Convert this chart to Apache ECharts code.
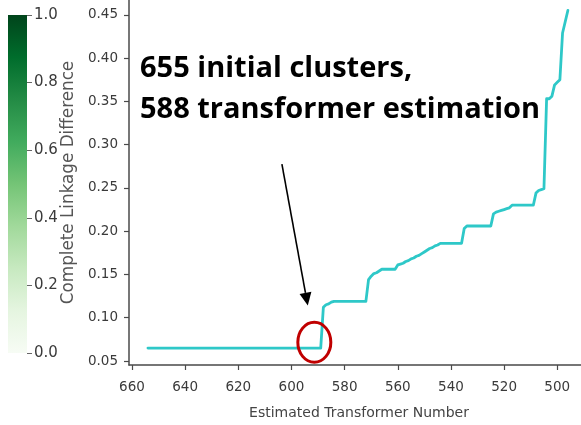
<!DOCTYPE html>
<html>
<head>
<meta charset="utf-8">
<script src="https://cdn.jsdelivr.net/npm/echarts@6/dist/echarts.min.js"></script>
<style>
html,body{margin:0;padding:0;background:#fff;}
#chart{width:581px;height:425px;}
</style>
</head>
<body>
<div id="chart"></div>
<script>
// ---- data ----
const transformerNumbers = [
  654,653,652,651,650,649,648,647,646,645,
  644,643,642,641,640,639,638,637,636,635,
  634,633,632,631,630,629,628,627,626,625,
  624,623,622,621,620,619,618,617,616,615,
  614,613,612,611,610,609,608,607,606,605,
  604,603,602,601,600,599,598,597,596,595,
  594,593,592,591,590,589,588,587,586,585,
  584,583,582,581,580,579,578,577,576,575,
  574,573,572,571,570,569,568,567,566,565,
  564,563,562,561,560,559,558,557,556,555,
  554,553,552,551,550,549,548,547,546,545,
  544,543,542,541,540,539,538,537,536,535,
  534,533,532,531,530,529,528,527,526,525,
  524,523,522,521,520,519,518,517,516,515,
  514,513,512,511,510,509,508,507,506,505,
  504,503,502,501,500,499,498,497,496
];
const linkageDifference = [
  0.065,0.065,0.065,0.065,0.065,0.065,0.065,0.065,0.065,0.065,
  0.065,0.065,0.065,0.065,0.065,0.065,0.065,0.065,0.065,0.065,
  0.065,0.065,0.065,0.065,0.065,0.065,0.065,0.065,0.065,0.065,
  0.065,0.065,0.065,0.065,0.065,0.065,0.065,0.065,0.065,0.065,
  0.065,0.065,0.065,0.065,0.065,0.065,0.065,0.065,0.065,0.065,
  0.065,0.065,0.065,0.065,0.065,0.065,0.065,0.065,0.065,0.065,
  0.065,0.065,0.065,0.065,0.065,0.065,0.112,0.115,0.116,0.118,
  0.119,0.119,0.119,0.119,0.119,0.119,0.119,0.119,0.119,0.119,
  0.119,0.119,0.119,0.144,0.148,0.151,0.152,0.154,0.156,0.156,
  0.156,0.156,0.156,0.156,0.161,0.162,0.163,0.165,0.166,0.168,
  0.169,0.171,0.172,0.174,0.176,0.178,0.180,0.181,0.183,0.184,
  0.186,0.186,0.186,0.186,0.186,0.186,0.186,0.186,0.186,0.203,
  0.206,0.206,0.206,0.206,0.206,0.206,0.206,0.206,0.206,0.206,
  0.220,0.222,0.223,0.224,0.225,0.226,0.227,0.230,0.230,0.230,
  0.230,0.230,0.230,0.230,0.230,0.230,0.244,0.247,0.248,0.249,
  0.353,0.353,0.356,0.369,0.372,0.375,0.429,0.442,0.455
];
const xTickValues = [660,640,620,600,580,560,540,520,500];
const yTickValues = [0.05,0.10,0.15,0.20,0.25,0.30,0.35,0.40,0.45];
const colorbarTickValues = [0.0,0.2,0.4,0.6,0.8,1.0];
const colorbarValue = [1.0];
const xAxisTitle = 'Estimated Transformer Number';
const yAxisTitle = 'Complete Linkage Difference';
const annotationLines = ['655 initial clusters,', '588 transformer estimation'];
// annotation anchors in data coordinates
const arrowStart = [603.6, 0.2774];
const arrowTip = [593.85, 0.114];
const circleCenter = [591.4, 0.0717];

// ---- chart ----
const chart = echarts.init(document.getElementById('chart'), null, {renderer: 'canvas'});
const tickFont = 'DejaVu Sans';
const lineData = transformerNumbers.map((x, i) => [x, linkageDifference[i]]);

chart.setOption({
  animation: false,
  backgroundColor: '#ffffff',
  grid: [
    {left: 129, top: 0, right: 0, bottom: 56, containLabel: false},
    {left: 8, top: 15, width: 19, height: 338, containLabel: false}
  ],
  xAxis: [
    {
      type: 'value', gridIndex: 0, inverse: true,
      min: 491.06, max: 661.13,
      name: xAxisTitle, nameLocation: 'middle', nameGap: 41,
      nameTextStyle: {fontFamily: tickFont, fontSize: 14, color: '#444', padding: [0, 0, 0, 8]},
      axisLine: {show: true, lineStyle: {color: '#4a4a4a', width: 1.5}},
      axisTick: {show: true, customValues: xTickValues, length: 5, lineStyle: {color: '#4a4a4a', width: 1.2}},
      axisLabel: {show: true, customValues: xTickValues, margin: 15, fontFamily: tickFont, fontSize: 13.5, color: '#3a3a3a',
        formatter: v => String(Math.round(v))},
      splitLine: {show: false}
    },
    {
      type: 'category', gridIndex: 1, data: ['bar'], show: false
    }
  ],
  yAxis: [
    {
      type: 'value', gridIndex: 0,
      min: 0.0454, max: 0.4671,
      name: yAxisTitle, nameLocation: 'middle', nameGap: 46,
      nameTextStyle: {fontFamily: tickFont, fontSize: 16.8, color: '#555'},
      axisLine: {show: true, lineStyle: {color: '#4a4a4a', width: 1.5}},
      axisTick: {show: true, customValues: yTickValues, length: 5, lineStyle: {color: '#4a4a4a', width: 1.2}},
      axisLabel: {show: true, customValues: yTickValues, margin: 11, fontFamily: tickFont, fontSize: 13.5, color: '#3a3a3a',
        formatter: v => v.toFixed(2)},
      splitLine: {show: false}
    },
    {
      type: 'value', gridIndex: 1, position: 'right',
      min: 0, max: 1, interval: 0.2,
      axisLine: {show: false},
      axisTick: {show: true, length: 5, lineStyle: {color: '#666', width: 1}},
      axisLabel: {show: true, margin: 7, fontFamily: tickFont, fontSize: 15, color: '#3a3a3a',
        formatter: v => v.toFixed(1)},
      splitLine: {show: false}
    }
  ],
  series: [
    {
      type: 'line', xAxisIndex: 0, yAxisIndex: 0,
      data: lineData, showSymbol: false, symbol: 'none',
      lineStyle: {color: '#2ec8c8', width: 2.8, cap: 'round', join: 'round'},
      z: 3
    },
    {
      type: 'bar', xAxisIndex: 1, yAxisIndex: 1,
      data: colorbarValue, barWidth: '100%',
      itemStyle: {
        color: new echarts.graphic.LinearGradient(0, 0, 0, 1, [
          {offset: 0, color: '#00441b'},
          {offset: 0.125, color: '#006d2c'},
          {offset: 0.25, color: '#238b45'},
          {offset: 0.375, color: '#41ab5d'},
          {offset: 0.5, color: '#74c476'},
          {offset: 0.625, color: '#a1d99b'},
          {offset: 0.75, color: '#c7e9c0'},
          {offset: 0.875, color: '#e5f5e0'},
          {offset: 1, color: '#f7fcf5'}
        ])
      },
      silent: true
    }
  ]
});

// annotations placed from data coordinates
const p0 = chart.convertToPixel({gridIndex: 0}, arrowStart);
const p1 = chart.convertToPixel({gridIndex: 0}, arrowTip);
const pc = chart.convertToPixel({gridIndex: 0}, circleCenter);
const dx = p1[0] - p0[0], dy = p1[1] - p0[1];
const len = Math.sqrt(dx * dx + dy * dy);
const ux = dx / len, uy = dy / len;
const headLen = 13, headHalf = 6;
const base = [p1[0] - ux * headLen, p1[1] - uy * headLen];

chart.setOption({
  graphic: [
    {type: 'line', z: 100, shape: {x1: p0[0], y1: p0[1], x2: base[0], y2: base[1]},
      style: {stroke: '#000', lineWidth: 1.6}},
    {type: 'polygon', z: 100, shape: {points: [
        [p1[0], p1[1]],
        [base[0] - uy * headHalf, base[1] + ux * headHalf],
        [base[0] + uy * headHalf, base[1] - ux * headHalf]
      ]}, style: {fill: '#000'}},
    {type: 'ellipse', z: 100, shape: {cx: pc[0], cy: pc[1], rx: 16.5, ry: 20},
      style: {fill: 'none', stroke: '#c00000', lineWidth: 3}},
    {type: 'text', z: 100, x: 140, y: 69,
      style: {text: annotationLines[0], font: 'bold 29px "Open Sans"', fill: '#000', verticalAlign: 'middle', align: 'left'}},
    {type: 'text', z: 100, x: 140, y: 110,
      style: {text: annotationLines[1], font: 'bold 29px "Open Sans"', fill: '#000', verticalAlign: 'middle', align: 'left'}}
  ]
});
</script>
</body>
</html>
